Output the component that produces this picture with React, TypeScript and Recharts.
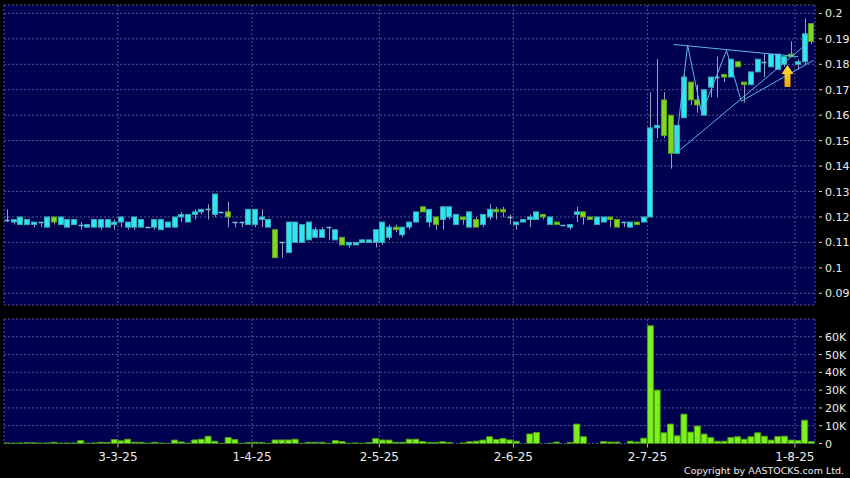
import React from 'react';
import { ComposedChart, Bar, XAxis, YAxis, CartesianGrid, ReferenceLine, ReferenceDot } from 'recharts';

// daily prices (HKD), one entry per trading day shown
const opens = [
  0.119, 0.118, 0.117, 0.117, 0.117, 0.118, 0.116, 0.120, 0.117, 0.116,
  0.117, 0.117, 0.116, 0.116, 0.116, 0.116, 0.117, 0.118, 0.116, 0.116,
  0.116, 0.116, 0.116, 0.115, 0.116, 0.116, 0.120, 0.118, 0.121, 0.122,
  0.123, 0.121, 0.122, 0.122, 0.118, 0.118, 0.117, 0.117, 0.119, 0.116,
  0.115, 0.110, 0.106, 0.110, 0.110, 0.111, 0.112, 0.112, 0.116, 0.111,
  0.112, 0.109, 0.109, 0.110, 0.110, 0.110, 0.110, 0.112, 0.116, 0.113,
  0.116, 0.118, 0.124, 0.118, 0.120, 0.119, 0.120, 0.117, 0.120, 0.116,
  0.119, 0.117, 0.120, 0.123, 0.123, 0.120, 0.117, 0.118, 0.119, 0.119,
  0.121, 0.117, 0.118, 0.117, 0.116, 0.121, 0.122, 0.120, 0.117, 0.118,
  0.120, 0.119, 0.118, 0.116, 0.118, 0.118, 0.120, 0.155, 0.166, 0.160,
  0.145, 0.159, 0.173, 0.166, 0.160, 0.171, 0.175, 0.176, 0.175, 0.181,
  0.173, 0.172, 0.177, 0.181, 0.179, 0.178, 0.180, 0.184, 0.180, 0.181,
  0.196,
];
const highs = [
  0.123, 0.119, 0.120, 0.119, 0.118, 0.118, 0.120, 0.120, 0.120, 0.119,
  0.119, 0.118, 0.117, 0.119, 0.119, 0.119, 0.119, 0.120, 0.118, 0.120,
  0.119, 0.116, 0.119, 0.119, 0.118, 0.120, 0.122, 0.121, 0.123, 0.123,
  0.125, 0.129, 0.122, 0.126, 0.118, 0.118, 0.123, 0.123, 0.123, 0.119,
  0.115, 0.110, 0.118, 0.118, 0.117, 0.118, 0.116, 0.116, 0.116, 0.115,
  0.112, 0.110, 0.110, 0.111, 0.111, 0.115, 0.118, 0.117, 0.117, 0.116,
  0.118, 0.122, 0.124, 0.123, 0.120, 0.124, 0.124, 0.121, 0.120, 0.122,
  0.120, 0.121, 0.125, 0.124, 0.124, 0.121, 0.118, 0.119, 0.121, 0.122,
  0.121, 0.120, 0.118, 0.117, 0.117, 0.124, 0.122, 0.120, 0.120, 0.120,
  0.120, 0.119, 0.118, 0.118, 0.118, 0.120, 0.169, 0.182, 0.169, 0.160,
  0.156, 0.176, 0.173, 0.172, 0.170, 0.175, 0.183, 0.176, 0.182, 0.181,
  0.173, 0.177, 0.182, 0.184, 0.184, 0.184, 0.183, 0.189, 0.182, 0.198,
  0.196,
];
const lows = [
  0.118, 0.117, 0.117, 0.117, 0.116, 0.116, 0.116, 0.117, 0.117, 0.116,
  0.117, 0.115, 0.116, 0.116, 0.115, 0.116, 0.115, 0.116, 0.115, 0.115,
  0.116, 0.116, 0.115, 0.115, 0.116, 0.116, 0.118, 0.118, 0.119, 0.121,
  0.119, 0.120, 0.122, 0.116, 0.116, 0.116, 0.117, 0.116, 0.116, 0.116,
  0.104, 0.104, 0.106, 0.110, 0.110, 0.111, 0.112, 0.112, 0.111, 0.111,
  0.109, 0.108, 0.109, 0.110, 0.110, 0.108, 0.109, 0.111, 0.114, 0.112,
  0.115, 0.118, 0.122, 0.116, 0.115, 0.115, 0.119, 0.117, 0.117, 0.116,
  0.116, 0.116, 0.119, 0.119, 0.120, 0.117, 0.115, 0.118, 0.116, 0.119,
  0.119, 0.117, 0.117, 0.117, 0.115, 0.118, 0.117, 0.119, 0.117, 0.118,
  0.116, 0.116, 0.116, 0.116, 0.117, 0.118, 0.120, 0.151, 0.151, 0.139,
  0.145, 0.159, 0.164, 0.161, 0.160, 0.167, 0.167, 0.173, 0.175, 0.179,
  0.165, 0.172, 0.177, 0.175, 0.179, 0.178, 0.179, 0.183, 0.178, 0.180,
  0.188,
];
const closes = [
  0.119, 0.119, 0.120, 0.119, 0.118, 0.118, 0.120, 0.118, 0.120, 0.119,
  0.119, 0.117, 0.117, 0.119, 0.119, 0.119, 0.118, 0.120, 0.118, 0.120,
  0.119, 0.116, 0.119, 0.119, 0.118, 0.120, 0.121, 0.121, 0.122, 0.123,
  0.123, 0.129, 0.122, 0.120, 0.118, 0.118, 0.123, 0.123, 0.120, 0.119,
  0.104, 0.110, 0.118, 0.118, 0.117, 0.118, 0.115, 0.115, 0.116, 0.115,
  0.109, 0.110, 0.110, 0.111, 0.111, 0.115, 0.118, 0.116, 0.115, 0.116,
  0.118, 0.122, 0.122, 0.123, 0.117, 0.124, 0.124, 0.121, 0.119, 0.122,
  0.116, 0.121, 0.123, 0.122, 0.122, 0.120, 0.118, 0.119, 0.120, 0.122,
  0.120, 0.120, 0.117, 0.117, 0.117, 0.122, 0.120, 0.119, 0.120, 0.120,
  0.119, 0.116, 0.118, 0.118, 0.117, 0.120, 0.155, 0.156, 0.152, 0.145,
  0.156, 0.175, 0.166, 0.164, 0.170, 0.175, 0.175, 0.175, 0.182, 0.179,
  0.172, 0.177, 0.182, 0.181, 0.184, 0.184, 0.183, 0.183, 0.181, 0.192,
  0.189,
];
// shares traded
const volumes = [
  300, 200, 300, 400, 400, 200, 300, 700, 200, 300,
  300, 1700, 200, 300, 700, 500, 2200, 1500, 2400, 700,
  700, 200, 700, 200, 100, 1900, 900, 200, 2000, 2400,
  4100, 1300, 100, 3400, 2200, 100, 600, 700, 600, 100,
  2000, 2000, 2000, 2400, 100, 700, 700, 700, 100, 1700,
  1100, 100, 300, 100, 500, 2800, 2000, 1900, 700, 700,
  2400, 2400, 1100, 600, 600, 1000, 600, 0, 300, 1000,
  1300, 1900, 3800, 2300, 2800, 2000, 1300, 0, 5400, 6200,
  0, 200, 800, 0, 600, 10900, 3800, 0, 0, 1100,
  800, 800, 0, 1300, 800, 3000, 66200, 30000, 6000, 10900,
  4300, 16500, 6400, 9800, 5300, 3400, 1300, 1300, 3400, 3800,
  2400, 3800, 6000, 4100, 1900, 3900, 4100, 1900, 1700, 13100,
  1100,
];

const tickDays = [17, 37, 56, 76, 96, 118];
const tickLabels = ['3-3-25', '1-4-25', '2-5-25', '2-6-25', '2-7-25', '1-8-25'];
const priceTicks = [0.09, 0.1, 0.11, 0.12, 0.13, 0.14, 0.15, 0.16, 0.17, 0.18, 0.19, 0.2];
const volTicks = [0, 10000, 20000, 30000, 40000, 50000, 60000];

// hand-drawn pattern lines: [day, price]
const upperTrend = [[99.4, 0.1878], [118, 0.183]];
const lowerTrend = [[100, 0.1455], [118.8, 0.187]];
const zigzag = [[99.6, 0.145], [101.5, 0.1875], [103.6, 0.1605], [107.3, 0.1855], [109.5, 0.1655], [120.3, 0.1816]];
const arrowAt = { day: 116.4, price: 0.1797 };

const data = opens.map((o, i) => ({
  i,
  open: o,
  high: highs[i],
  low: lows[i],
  close: closes[i],
  vol: volumes[i],
}));

const Y_MIN = 0.0854;
const Y_MAX = 0.2033;
const X_DOMAIN: [number, number] = [-0.5, opens.length - 0.5];
const gridTicks = tickDays.map((d) => d - 0.5);

const NAVY = '#000050';
const GRID = '#56568c';
const FONT = 'DejaVu Sans';

const Candle = (props: any) => {
  const { x, y, width, height, payload } = props;
  const { open, close, high, low } = payload;
  const k = height / (high - Y_MIN);
  const py = (v: number) => y + (high - v) * k;
  const cx = Math.round(x + width / 2) + 0.5;
  const left = Math.round(x) + 0.5;
  const w = Math.round(width) - 1;
  const top = py(Math.max(open, close));
  const bot = py(Math.min(open, close));
  const up = close > open;
  return (
    <g>
      <line x1={cx} x2={cx} y1={py(high)} y2={py(low)} stroke="#9c9cbc" strokeWidth={1} />
      {close === open ? (
        <line x1={left} x2={left + w} y1={Math.round(top) + 0.5} y2={Math.round(top) + 0.5} stroke="#6fc4d4" strokeWidth={1.5} />
      ) : (
        <rect
          x={left}
          y={top}
          width={w}
          height={Math.max(bot - top, 1)}
          fill={up ? '#2ee6f2' : '#7fd81e'}
          stroke={up ? '#3aa6b4' : '#5c9e1c'}
          strokeWidth={1}
        />
      )}
    </g>
  );
};

const Arrow = ({ cx, cy }: any) => (
  <g>
    <defs>
      <linearGradient id="arrowGrad" x1="0" y1="0" x2="0" y2="1">
        <stop offset="0%" stopColor="#ffe23a" />
        <stop offset="100%" stopColor="#f2a200" />
      </linearGradient>
    </defs>
    <polygon
      points={`${cx},${cy} ${cx + 6},${cy + 9} ${cx + 3},${cy + 9} ${cx + 3},${cy + 22} ${cx - 3},${cy + 22} ${cx - 3},${cy + 9} ${cx - 6},${cy + 9}`}
      fill="url(#arrowGrad)"
    />
  </g>
);

const PriceTick = ({ x, y, payload }: any) => (
  <g>
    <line x1={x + 4} x2={x + 7} y1={y} y2={y} stroke="#d8d8d8" />
    <text x={x + 10} y={y} dy={4} fill="#ececec" fontSize={11} fontFamily={FONT}>
      {String(+payload.value.toFixed(2))}
    </text>
  </g>
);

const VolTick = ({ x, y, payload }: any) => (
  <g>
    <line x1={x + 4} x2={x + 7} y1={y} y2={y} stroke="#d8d8d8" />
    <text x={x + 10} y={y} dy={4} fill="#ececec" fontSize={11} fontFamily={FONT}>
      {payload.value === 0 ? '0' : `${payload.value / 1000}K`}
    </text>
  </g>
);

const segs = (pts: number[][]) =>
  pts.slice(1).map((p, k) => [
    { x: pts[k][0], y: pts[k][1] },
    { x: p[0], y: p[1] },
  ]);

const lineSegs = [...segs(upperTrend), ...segs(lowerTrend), ...segs(zigzag)];

export default function App() {
  return (
    <div style={{ position: 'absolute', left: 0, top: 0, width: 850, height: 478, background: '#000', overflow: 'hidden' }}>
      <ComposedChart width={850} height={310} data={data} margin={{ top: 5, right: 0, bottom: 5, left: 4 }}>
        <CartesianGrid stroke={GRID} strokeDasharray="2 2" fill={NAVY} fillOpacity={1} />
        <XAxis type="number" dataKey="i" domain={X_DOMAIN} ticks={gridTicks} hide allowDataOverflow />
        <YAxis
          orientation="right"
          width={35}
          domain={[Y_MIN, Y_MAX]}
          ticks={priceTicks}
          allowDataOverflow
          axisLine={false}
          tickLine={false}
          tickSize={0}
          tickMargin={0}
          tick={<PriceTick />}
          interval={0}
        />
        <Bar dataKey="high" barSize={6} shape={(p: any) => <Candle {...p} />} isAnimationActive={false} />
        {lineSegs.map((s, k) => (
          <ReferenceLine key={k} segment={s} stroke="#5fb4ec" strokeWidth={1} ifOverflow="visible" />
        ))}
        <ReferenceDot x={arrowAt.day} y={arrowAt.price} r={0} shape={(p: any) => <Arrow {...p} />} ifOverflow="visible" />
      </ComposedChart>
      <ComposedChart width={850} height={168} data={data} margin={{ top: 9, right: 0, bottom: 0, left: 4 }}>
        <CartesianGrid stroke={GRID} strokeDasharray="2 2" fill={NAVY} fillOpacity={1} />
        <XAxis
          type="number"
          dataKey="i"
          domain={X_DOMAIN}
          ticks={gridTicks}
          interval={0}
          allowDataOverflow
          height={34.5}
          axisLine={false}
          tickSize={4}
          tickMargin={5}
          tickLine={{ stroke: '#bbbbbb' }}
          tick={{ fill: '#ececec', fontSize: 12, fontFamily: FONT }}
          tickFormatter={(v: number) => tickLabels[gridTicks.indexOf(v)] ?? ''}
        />
        <YAxis
          orientation="right"
          width={35}
          domain={[0, 70000]}
          ticks={volTicks}
          allowDataOverflow
          axisLine={false}
          tickLine={false}
          tickSize={0}
          tickMargin={0}
          tick={<VolTick />}
          interval={0}
        />
        <Bar dataKey="vol" barSize={6} fill="#7cf21c" stroke="#4e9c12" strokeWidth={1} isAnimationActive={false} />
      </ComposedChart>
      <div
        style={{
          position: 'absolute',
          right: 6,
          top: 465,
          color: '#ececec',
          fontSize: 9.5,
          fontFamily: FONT,
          lineHeight: '12px',
          whiteSpace: 'nowrap',
        }}
      >
        Copyright by AASTOCKS.com Ltd.
      </div>
    </div>
  );
}
